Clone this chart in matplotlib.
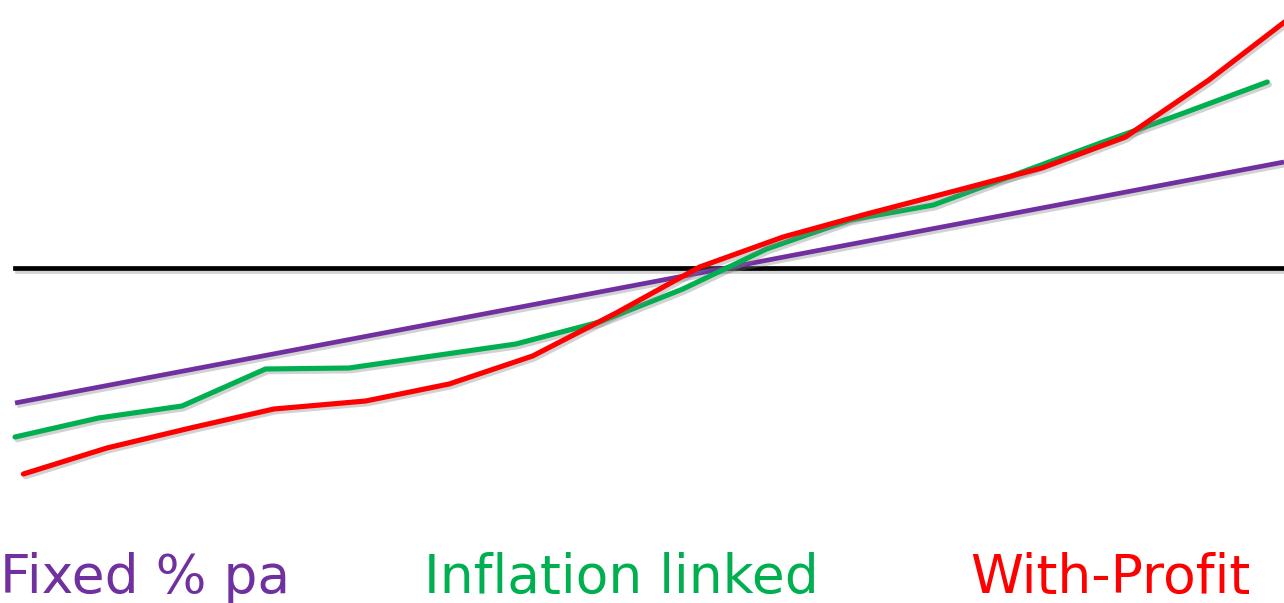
import numpy as np
import matplotlib
matplotlib.use("Agg")
import matplotlib.pyplot as plt
import matplotlib.patheffects as pe

# --- data (years on x, value relative to the break-even line on y) ---
green_x = list(range(16))
green_y = [-16.9, -15.0, -13.8, -10.1, -10.0, -8.8, -7.6, -5.4,
           -2.1, 1.9, 4.8, 6.3, 9.4, 12.5, 15.5, 18.6]

red_x = [0.1, 1.1, 2.1, 3.1, 4.2, 5.2, 6.2, 7.2,
         8.2, 9.2, 10.2, 11.3, 12.3, 13.3, 14.3, 15.3]
red_y = [-20.6, -18.0, -16.0, -14.1, -13.3, -11.6, -8.8, -4.5,
         0.1, 3.1, 5.4, 7.8, 10.0, 13.1, 18.8, 25.2]

purple_x = [0, 15.2]
purple_y = [-13.5, 10.6]

base_x = [0, 16]
base_y = [0, 0]

labels = ["Fixed % pa", "Inflation linked", "With-Profit"]
colors = ["#7030A0", "#00B050", "#FF0000"]

fig = plt.figure(figsize=(12.84, 6.03), dpi=100)
ax = fig.add_axes([0, 0, 1, 1])
ax.set_xlim(-0.18, 15.2)
ax.set_ylim(-33.5, 26.8)
ax.axis("off")

shadow = [pe.SimpleLineShadow(offset=(1.5, -2), shadow_color="gray", alpha=0.35),
          pe.Normal()]

ax.plot(base_x, base_y, color="black", lw=3.4, path_effects=shadow)
ax.plot(purple_x, purple_y, color=colors[0], lw=3.4, solid_capstyle="butt",
        path_effects=shadow)
ax.plot(green_x, green_y, color=colors[1], lw=3.7, solid_capstyle="round",
        path_effects=shadow)
ax.plot(red_x, red_y, color=colors[2], lw=3.7, solid_capstyle="round",
        path_effects=shadow)

# labels under the lines
label_x = [0 / 1284, 424 / 1284, 970 / 1284]
for txt, c, lx in zip(labels, colors, label_x):
    fig.text(lx, 10 / 603, txt, color=c, fontsize=38.5, family="DejaVu Sans",
             ha="left", va="baseline")

fig.savefig("out.png", dpi=100)
